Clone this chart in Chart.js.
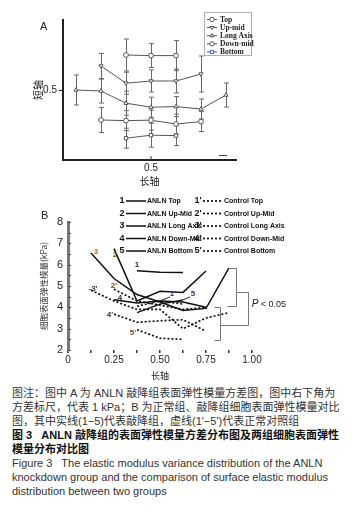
<!DOCTYPE html>
<html>
<head>
<meta charset="utf-8">
<script src="https://cdn.jsdelivr.net/npm/chart.js@4.4.0/dist/chart.umd.min.js"></script>
<style>
  html, body { margin: 0; padding: 0; background: #fff; }
  #page { position: relative; width: 361px; height: 518px; overflow: hidden;
          font-family: "Liberation Sans", "Noto Sans CJK SC", sans-serif; color: #222; }
  #page canvas { position: absolute; left: 0; }
  #chartA { top: 0; }
  #chartB { top: 195px; }
  .panel { position: absolute; font-size: 11px; line-height: 12px; }
  #caption { position: absolute; left: 12px; top: 386px; font-size: 11px; line-height: 14px;
             white-space: pre; color: #333; }
  #caption .b { font-weight: bold; color: #111; }
</style>
</head>
<body>
<div id="page">
  <canvas id="chartA" width="361" height="195"></canvas>
  <canvas id="chartB" width="361" height="190"></canvas>
  <span class="panel" style="left:40px;top:20px">A</span>
  <span class="panel" style="left:41px;top:209px">B</span>
  <div id="caption"><div>图注：图中 A 为 ANLN 敲降组表面弹性模量方差图，图中右下角为</div><div>方差标尺，代表 1 kPa；B 为正常组、敲降组细胞表面弹性模量对比</div><div>图，其中实线(1−5)代表敲降组，虚线(1'−5')代表正常对照组</div><div class="b">图 3   ANLN 敲降组的表面弹性模量方差分布图及两组细胞表面弹性</div><div class="b">模量分布对比图</div><div>Figure 3   The elastic modulus variance distribution of the ANLN</div><div>knockdown group and the comparison of surface elastic modulus</div><div>distribution between two groups</div></div>
</div>

<script>
// positions along the long axis for each row of measurements
const xTop = [0.375, 0.5, 0.625];
const xUpMid = [0.25, 0.375, 0.5, 0.625, 0.75];
const xLongAxis = [0.125, 0.25, 0.375, 0.5, 0.625, 0.75, 0.875];
const xDownMid = [0.25, 0.375, 0.5, 0.625, 0.75];
const xBottom = [0.375, 0.5, 0.625];

// panel A: short-axis position and variance (error bar half length)
const namesA = ['Top', 'Up-mid', 'Long Axis', 'Down-mid', 'Bottom'];
const aTop = [0.675, 0.672, 0.672];
const aTopErr = [0.08, 0.06, 0.075];
const aUpMid = [0.62, 0.534, 0.545, 0.545, 0.58];
const aUpMidErr = [0.063, 0.055, 0.055, 0.06, 0.09];
const aLongAxis = [0.5, 0.495, 0.434, 0.414, 0.417, 0.405, 0.475];
const aLongAxisErr = [0.075, 0.06, 0.06, 0.05, 0.05, 0.05, 0.06];
const aDownMid = [0.35, 0.347, 0.349, 0.33, 0.342];
const aDownMidErr = [0.063, 0.05, 0.05, 0.05, 0.05];
const aBottom = [0.259, 0.274, 0.272];
const aBottomErr = [0.05, 0.06, 0.05];

// panel B: surface elastic modulus (kPa)
const namesB = ['Top', 'Up-Mid', 'Long Axis', 'Down-Mid', 'Bottom'];
const anlnTop = [5.72, 5.65, 5.63];
const anlnUpMid = [6.75, 4.3, 4.75, 4.7, 5.7];
const anlnLongAxis = [6.55, 5.35, 4.6, 4.25, 3.85, 3.95, 5.85];
const anlnDownMid = [4.35, 4.2, 4.3, 4.25, 4.0];
const anlnBottom = [3.75, 4.15, 4.35];
const ctrlTop = [4.05, 4.3, 4.15];
const ctrlUpMid = [4.85, 4.3, 4.1, 3.9, 4.0];
const ctrlLongAxis = [4.8, 4.3, 3.9, 3.9, 3.0, 3.5, 3.75];
const ctrlDownMid = [3.68, 3.3, 3.37, 3.42, 2.88];
const ctrlBottom = [2.95, 2.55, 2.5];

const xTicksB = [0, 0.25, 0.5, 0.75, 1.0];

const pts = (xs, ys) => xs.map((x, i) => ({ x: x, y: ys[i] }));

// ---------- shared plugins ----------

// short tick marks drawn inward from the axis line
const innerTicks = {
  id: 'innerTicks',
  afterDraw(chart, args, opts) {
    const { ctx, chartArea } = chart;
    ctx.save();
    ctx.strokeStyle = opts.color || '#333';
    ctx.lineWidth = 1;
    ctx.beginPath();
    if (opts.x) {
      chart.scales.x.ticks.forEach(t => {
        const px = chart.scales.x.getPixelForValue(t.value);
        ctx.moveTo(px, chartArea.bottom);
        ctx.lineTo(px, chartArea.bottom - opts.x);
      });
    }
    if (opts.y) {
      chart.scales.y.ticks.forEach(t => {
        const py = Math.round(chart.scales.y.getPixelForValue(t.value)) + 0.5;
        ctx.moveTo(chartArea.left, py);
        ctx.lineTo(chartArea.left + opts.y, py);
      });
    }
    ctx.stroke();
    ctx.restore();
  }
};

// ---------- panel A ----------

const errorBars = {
  id: 'errorBars',
  beforeDatasetsDraw(chart, args, opts) {
    const { ctx } = chart;
    const yScale = chart.scales.y;
    ctx.save();
    ctx.strokeStyle = opts.color;
    ctx.lineWidth = 1;
    chart.data.datasets.forEach((ds, i) => {
      if (!ds.errors) return;
      chart.getDatasetMeta(i).data.forEach((pt, j) => {
        const v = ds.data[j].y;
        const e = ds.errors[j];
        const top = yScale.getPixelForValue(v + e);
        const bot = yScale.getPixelForValue(v - e);
        const x = Math.round(pt.x) + 0.5;
        ctx.beginPath();
        ctx.moveTo(x, top); ctx.lineTo(x, bot);
        ctx.moveTo(x - opts.cap, top); ctx.lineTo(x + opts.cap, top);
        ctx.moveTo(x - opts.cap, bot); ctx.lineTo(x + opts.cap, bot);
        ctx.stroke();
      });
    });
    ctx.restore();
  }
};

const legendA = {
  id: 'legendA',
  afterDraw(chart, args, opts) {
    const { ctx } = chart;
    ctx.save();
    ctx.strokeStyle = '#b0b0b0';
    ctx.lineWidth = 1;
    ctx.strokeRect(opts.left + 0.5, opts.top + 0.5, opts.width, opts.height);
    ctx.font = 'bold 7.5px "Liberation Serif"';
    ctx.textBaseline = 'middle';
    chart.data.datasets.forEach((ds, i) => {
      const y = opts.top + 7.5 + i * opts.rowGap;
      const x0 = opts.left + 3;
      ctx.strokeStyle = ds.legendColor || ds.borderColor;
      ctx.beginPath();
      ctx.moveTo(x0, y); ctx.lineTo(x0 + 10, y);
      ctx.stroke();
      ctx.fillStyle = '#fff';
      ctx.strokeStyle = ds.legendColor || ds.pointBorderColor;
      Chart.helpers.drawPoint(ctx, {
        pointStyle: ds.pointStyle, rotation: ds.pointRotation || 0,
        radius: 2.2, borderWidth: 1
      }, x0 + 5, y);
      ctx.fillStyle = '#222';
      ctx.fillText(ds.label, x0 + 13, y + 0.5);
    });
    ctx.restore();
  }
};

const scaleBar = {
  id: 'scaleBar',
  afterDraw(chart, args, opts) {
    const { ctx, scales: { x, y } } = chart;
    const py = Math.round(y.getPixelForValue(opts.y)) + 0.5;
    ctx.save();
    ctx.strokeStyle = '#444';
    ctx.lineWidth = 1;
    ctx.beginPath();
    ctx.moveTo(x.getPixelForValue(opts.x0), py);
    ctx.lineTo(x.getPixelForValue(opts.x1), py);
    ctx.stroke();
    ctx.restore();
  }
};

function seriesA(label, xs, ys, errs, style, rotation, legendColor) {
  return {
    label: label,
    data: pts(xs, ys),
    errors: errs,
    borderColor: '#555',
    borderWidth: 1,
    pointStyle: style,
    pointRotation: rotation,
    pointRadius: 2.4,
    pointBackgroundColor: '#fff',
    pointBorderColor: '#555',
    pointBorderWidth: 1,
    legendColor: legendColor,
    tension: 0
  };
}

new Chart(document.getElementById('chartA'), {
  type: 'line',
  data: {
    datasets: [
      seriesA(namesA[0], xTop, aTop, aTopErr, 'circle', 0),
      seriesA(namesA[1], xUpMid, aUpMid, aUpMidErr, 'triangle', 180),
      seriesA(namesA[2], xLongAxis, aLongAxis, aLongAxisErr, 'triangle', 0),
      seriesA(namesA[3], xDownMid, aDownMid, aDownMidErr, 'circle', 0),
      seriesA(namesA[4], xBottom, aBottom, aBottomErr, 'rect', 0, '#4a55c8')
    ]
  },
  options: {
    responsive: false,
    animation: false,
    layout: { padding: { left: 20, right: 125, top: 20, bottom: 0 } },
    plugins: {
      legend: { display: false },
      tooltip: { enabled: false },
      errorBars: { color: '#666', cap: 2.5 },
      legendA: { left: 204, top: 12, width: 47, height: 43, rowGap: 8.1 },
      scaleBar: { x0: 0.84, x1: 0.88, y: 0.175 },
      innerTicks: { x: 4, color: '#333' }
    },
    scales: {
      x: {
        type: 'linear', min: 0.06, max: 0.925,
        afterBuildTicks: s => { s.ticks = [{ value: 0.5 }]; },
        afterFit: s => { s.height = 35; },
        border: { color: '#222', width: 2 },
        grid: { display: false, drawTicks: false },
        ticks: { padding: 2, color: '#222', font: { size: 10, family: 'Liberation Sans' },
                 callback: v => v.toFixed(1) },
        title: { display: true, text: '长轴', color: '#222',
                 font: { size: 10, family: 'Noto Sans CJK SC' }, padding: { bottom: 8 } }
      },
      y: {
        min: 0.15, max: 0.85,
        afterBuildTicks: s => { s.ticks = [{ value: 0.5 }]; },
        afterFit: s => { s.width = 43; },
        border: { color: '#222', width: 2 },
        grid: { drawOnChartArea: false, drawTicks: true, tickLength: 4, color: '#222' },
        ticks: { padding: 2, color: '#222', font: { size: 10, family: 'Liberation Sans' },
                 callback: v => v.toFixed(1) },
        title: { display: true, text: '短轴', color: '#222',
                 font: { size: 10, family: 'Noto Sans CJK SC' }, padding: { top: 12 } }
      }
    }
  },
  plugins: [errorBars, legendA, scaleBar, innerTicks]
});

// ---------- panel B ----------

const legendB = {
  id: 'legendB',
  afterDraw(chart, args, opts) {
    const { ctx } = chart;
    ctx.save();
    ctx.textBaseline = 'middle';
    chart.data.datasets.forEach((ds, i) => {
      const col = i < 5 ? opts.leftCol : opts.rightCol;
      const row = i % 5;
      const y = opts.top + row * opts.rowGap;
      ctx.fillStyle = '#111';
      ctx.font = 'bold 9px "Liberation Sans"';
      ctx.textAlign = 'center';
      ctx.fillText(String(row + 1) + (i < 5 ? '' : "'"), col.num, y);
      ctx.strokeStyle = '#111';
      ctx.lineWidth = ds.borderWidth;
      ctx.setLineDash(ds.borderDash || []);
      ctx.beginPath();
      ctx.moveTo(col.line0, y); ctx.lineTo(col.line1, y);
      ctx.stroke();
      ctx.setLineDash([]);
      ctx.textAlign = 'left';
      ctx.font = 'bold 7px "Liberation Sans"';
      ctx.fillText(ds.label, col.text, y + 0.5);
    });
    ctx.restore();
  }
};

const lineTags = {
  id: 'lineTags',
  afterDatasetsDraw(chart, args, opts) {
    const { ctx } = chart;
    ctx.save();
    ctx.font = 'bold 8px "Liberation Sans"';
    ctx.textAlign = 'center';
    ctx.textBaseline = 'middle';
    opts.tags.forEach(t => {
      const pt = chart.getDatasetMeta(t.ds).data[t.i];
      const lx = pt.x + t.dx, ly = pt.y + t.dy;
      if (t.pointer) {
        ctx.strokeStyle = '#222';
        ctx.lineWidth = 1;
        ctx.beginPath();
        ctx.moveTo(lx - 3, ly + 3); ctx.lineTo(pt.x, pt.y);
        ctx.stroke();
      }
      ctx.fillStyle = t.color;
      ctx.fillText(t.text, lx, ly);
    });
    ctx.restore();
  }
};

const brackets = {
  id: 'brackets',
  afterDraw(chart, args, opts) {
    const { ctx, scales: { x, y } } = chart;
    ctx.save();
    ctx.strokeStyle = '#777';
    ctx.lineWidth = 1;
    opts.paths.forEach(p => {
      ctx.beginPath();
      p.forEach(([vx, vy], k) => {
        const px = Math.round(x.getPixelForValue(vx)) + 0.5;
        const py = Math.round(y.getPixelForValue(vy)) + 0.5;
        if (k === 0) ctx.moveTo(px, py); else ctx.lineTo(px, py);
      });
      ctx.stroke();
    });
    const tx = x.getPixelForValue(opts.label.x);
    const ty = y.getPixelForValue(opts.label.y);
    ctx.fillStyle = '#222';
    ctx.textBaseline = 'middle';
    ctx.font = 'italic 10px "Liberation Sans"';
    ctx.fillText('P', tx, ty);
    const w = ctx.measureText('P').width;
    ctx.font = '9px "Liberation Sans"';
    ctx.fillText(' < 0.05', tx + w, ty);
    ctx.restore();
  }
};

function seriesB(label, xs, ys, dashed) {
  return {
    label: label,
    data: pts(xs, ys),
    borderColor: '#111',
    borderWidth: dashed ? 1.7 : 1.5,
    borderDash: dashed ? [2, 2] : undefined,
    pointRadius: 0,
    tension: 0
  };
}

new Chart(document.getElementById('chartB'), {
  type: 'line',
  data: {
    datasets: [
      seriesB('ANLN ' + namesB[0], xTop, anlnTop),
      seriesB('ANLN ' + namesB[1], xUpMid, anlnUpMid),
      seriesB('ANLN ' + namesB[2], xLongAxis, anlnLongAxis),
      seriesB('ANLN ' + namesB[3], xDownMid, anlnDownMid),
      seriesB('ANLN ' + namesB[4], xBottom, anlnBottom),
      seriesB('Control ' + namesB[0], xTop, ctrlTop, true),
      seriesB('Control ' + namesB[1], xUpMid, ctrlUpMid, true),
      seriesB('Control ' + namesB[2], xLongAxis, ctrlLongAxis, true),
      seriesB('Control ' + namesB[3], xDownMid, ctrlDownMid, true),
      seriesB('Control ' + namesB[4], xBottom, ctrlBottom, true)
    ]
  },
  options: {
    responsive: false,
    animation: false,
    layout: { padding: { left: 28, right: 109, top: 27, bottom: 0 } },
    plugins: {
      legend: { display: false },
      tooltip: { enabled: false },
      legendB: {
        top: 6, rowGap: 12.5,
        leftCol: { num: 122, line0: 126, line1: 146, text: 147 },
        rightCol: { num: 198, line0: 203, line1: 223, text: 224 }
      },
      lineTags: {
        tags: [
          { ds: 2, i: 0, text: '3', dx: 5, dy: -1, color: '#b8741a' },
          { ds: 1, i: 0, text: '2', dx: 1, dy: 6, color: '#6e4f25' },
          { ds: 0, i: 0, text: '1', dx: 0, dy: -6, color: '#333' },
          { ds: 3, i: 0, text: '4', dx: 6, dy: -2, color: '#333' },
          { ds: 4, i: 2, text: '5', dx: 10, dy: -6, color: '#2a3a7a', pointer: true },
          { ds: 5, i: 1, text: "1'", dx: 13, dy: -7, color: '#2a3a7a', pointer: true },
          { ds: 6, i: 0, text: "2'", dx: 0, dy: -3, color: '#6e4f25' },
          { ds: 7, i: 0, text: "-3'", dx: 2, dy: -1, color: '#333' },
          { ds: 8, i: 0, text: "4'", dx: -4, dy: 1, color: '#333' },
          { ds: 9, i: 0, text: "5'", dx: -4, dy: 3, color: '#6e4f25' }
        ]
      },
      brackets: {
        paths: [
          [[0.87, 5.86], [0.914, 5.86], [0.914, 4.04], [0.863, 4.04]],
          [[0.792, 4.0], [0.827, 4.0], [0.827, 2.49], [0.792, 2.49]],
          [[0.914, 4.74], [0.977, 4.74], [0.977, 3.15], [0.827, 3.15]]
        ],
        label: { x: 0.998, y: 4.15 }
      },
      innerTicks: { y: 3, color: '#555' }
    },
    scales: {
      x: {
        type: 'linear', min: 0, max: 1,
        afterFit: s => { s.height = 35; },
        border: { display: false },
        grid: { drawOnChartArea: false, drawTicks: true, tickLength: 3, color: '#333', lineWidth: 1.5 },
        ticks: {
          stepSize: 0.125, autoSkip: false, maxRotation: 0, padding: 1, color: '#222',
          font: { size: 10, family: 'Liberation Sans' },
          callback: v => {
            if (!xTicksB.includes(v)) return '';
            return v === 0 ? '0' : v.toFixed(2);
          }
        },
        title: { display: true, text: '长轴', color: '#222',
                 font: { size: 9, family: 'Noto Sans CJK SC' }, padding: { bottom: 4 } }
      },
      y: {
        min: 2, max: 8,
        afterFit: s => { s.width = 40; },
        border: { color: '#777', width: 3 },
        grid: { display: false, drawTicks: false },
        ticks: {
          stepSize: 0.5, autoSkip: false, padding: 5, color: '#222',
          font: { size: 11, family: 'Liberation Sans' },
          callback: v => (Number.isInteger(v) ? String(v) : '')
        },
        title: { display: true, text: '细胞表面弹性模量(kPa)', color: '#333',
                 font: { size: 8.5, family: 'Noto Sans CJK SC' }, padding: { top: 11 } }
      }
    }
  },
  plugins: [legendB, lineTags, brackets, innerTicks]
});
</script>
</body>
</html>
